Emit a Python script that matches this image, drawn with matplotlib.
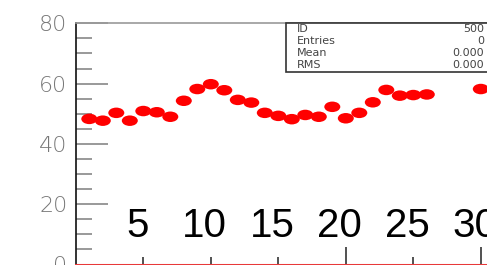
import matplotlib
matplotlib.use('Agg')
import matplotlib.pyplot as plt
from matplotlib.patches import Rectangle, Ellipse

# bin contents (bins 27-29 show nothing)
bins = [1, 2, 3, 4, 5, 6, 7, 8, 9, 10, 11, 12, 13, 14, 15, 16, 17, 18, 19, 20,
        21, 22, 23, 24, 25, 26, 30]
values = [48.3, 47.7, 50.3, 47.7, 50.9, 50.5, 49.0, 54.3, 58.2, 59.8, 57.8, 54.6,
          53.7, 50.3, 49.3, 48.2, 49.6, 49.0, 52.3, 48.5, 50.3, 53.8, 57.9, 56.0,
          56.2, 56.4, 58.2]
x_labels = [5, 10, 15, 20, 25, 30]
y_labels = [0, 20, 40, 60, 80]
stat_names = ['ID', 'Entries', 'Mean', 'RMS']
stat_values = ['500', '0', '0.000', '0.000']

W, H = 487, 265
fig = plt.figure(figsize=(W / 100, H / 100), dpi=100)
ax = fig.add_axes([75.8 / W, 0.5 / H, 1 - 75.8 / W, (264.5 - 23.3) / H])
ax.set_xlim(0, (W - 75.8) / 13.5)
ax.set_ylim(0, 80)

# markers: wide red ellipses, drawn in pixel size through the data scale
px_x = 1 / 13.5
px_y = 80 / (264.5 - 23.3)
for b, v in zip(bins, values):
    ax.add_patch(Ellipse((b, v), 16 * px_x, 10.5 * px_y, color='#ff0000',
                         lw=0, clip_on=False, zorder=3))

# empty histogram line at zero
ax.axhline(0, color='#e8393a', lw=2.2, zorder=4, clip_on=False)

for s in ['right', 'bottom']:
    ax.spines[s].set_visible(False)
ax.spines['left'].set_color('#111111')
ax.spines['left'].set_linewidth(1.2)
ax.spines['top'].set_color('#9a9a9a')
ax.spines['top'].set_linewidth(1.2)

ax.set_yticks(y_labels)
ax.set_yticks(range(5, 80, 5), minor=True)
ax.set_yticklabels([str(v) for v in y_labels], color='#777777',
                   fontsize=16, family='DejaVu Sans', fontweight='light')
ax.tick_params(axis='y', which='major', direction='in', length=23, width=1.2,
               color='#888888', pad=6)
ax.tick_params(axis='y', which='minor', direction='in', length=11.5, width=1.2,
               color='#888888')

ax.set_xticks([20, 30])
ax.set_xticks([5, 10, 15, 25], minor=True)
ax.set_xticklabels([])
ax.tick_params(axis='x', which='major', direction='in', length=13, width=1.2,
               color='#333333')
ax.tick_params(axis='x', which='minor', direction='in', length=6, width=1.2,
               color='#333333')

for xl in x_labels:
    ax.text(xl - 0.45, 12.8, str(xl), ha='center', va='center', fontsize=29,
            family=['Liberation Sans Narrow', 'Liberation Sans'], color='black',
            clip_on=False)

# stats box
fig.patches.append(Rectangle((285.7 / W, 1 - 71.7 / H), 1, (71.7 - 23.3) / H,
                             transform=fig.transFigure, facecolor='white',
                             edgecolor='#333333', lw=1.2, zorder=5))
rows_y = [29, 41.3, 53.3, 65.3]
for name, val, yy in zip(stat_names, stat_values, rows_y):
    fig.text(296.7 / W, 1 - yy / H, name, ha='left', va='center', fontsize=8,
             family='DejaVu Sans', color='#444444', zorder=6)
    fig.text(484 / W, 1 - yy / H, val, ha='right', va='center', fontsize=8,
             family='DejaVu Sans', color='#444444', zorder=6)

fig.savefig('out.png', dpi=100)
